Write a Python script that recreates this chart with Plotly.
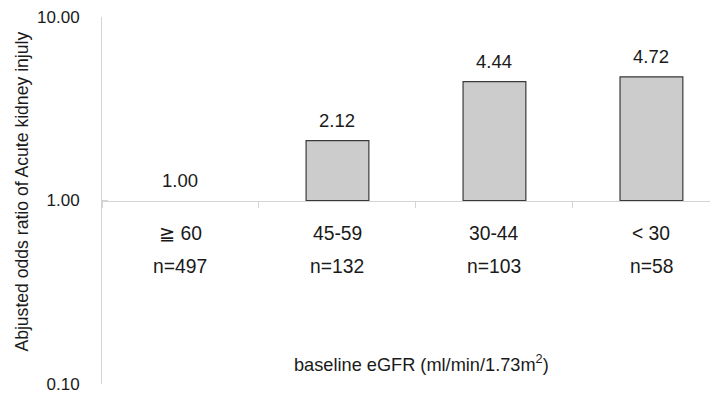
import math
import plotly.graph_objects as go

categories = ["≧ 60", "45-59", "30-44", "< 30"]
n_labels = ["n=497", "n=132", "n=103", "n=58"]
odds_ratios = [1.00, 2.12, 4.44, 4.72]
y_tick_vals = [0.1, 1, 10]
y_tick_text = ["0.10", "1.00", "10.00"]

FONT = "Liberation Sans, Arial, DejaVu Sans, sans-serif"
TXT = "#1a1a1a"
AXC = "#d4d4d4"

fig = go.Figure()
fig.add_trace(go.Bar(
    x=categories,
    y=[v - 1 for v in odds_ratios],
    base=[1] * len(odds_ratios),
    width=0.40,
    marker=dict(color="#cccccc",
                line=dict(color=["rgba(0,0,0,0)"] + ["#3a3a3a"] * 3, width=1.2)),
    hoverinfo="skip",
    showlegend=False,
))

annotations = []
for c, v in zip(categories, odds_ratios):
    annotations.append(dict(x=c, y=math.log10(v), xref="x", yref="y",
                            text=f"{v:.2f}", showarrow=False, yanchor="middle",
                            yshift=20, font=dict(size=18.5, color=TXT, family=FONT)))
for c, n in zip(categories, n_labels):
    annotations.append(dict(x=c, y=0.411, xref="x", yref="paper", text=c,
                            showarrow=False, yanchor="middle",
                            font=dict(size=19.3, color=TXT, family=FONT)))
    annotations.append(dict(x=c, y=0.3215, xref="x", yref="paper", text=n,
                            showarrow=False, yanchor="middle",
                            font=dict(size=19.3, color=TXT, family=FONT)))
annotations.append(dict(x=0.518, y=0.057, xref="paper", yref="paper",
                        text="baseline eGFR (ml/min/1.73m<sup>2</sup>)",
                        showarrow=False, xanchor="center", yanchor="middle",
                        font=dict(size=18.2, color=TXT, family=FONT)))
annotations.append(dict(x=-0.129, y=0.523, xref="paper", yref="paper",
                        text="Abjusted odds ratio of Acute kidney injuly",
                        textangle=-90, showarrow=False, xanchor="center", yanchor="middle",
                        font=dict(size=17.6, color=TXT, family=FONT)))

# page body has an 8px margin; size the figure so the plot area lands where the reference has it
fig.update_layout(
    width=710, height=385,
    margin=dict(l=94, r=0, t=9, b=9),
    paper_bgcolor="white", plot_bgcolor="white",
    annotations=annotations,
    xaxis=dict(
        type="category", range=[-0.5, 3.424],
        anchor="free", position=0.5,
        showline=True, linecolor=AXC, linewidth=1,
        ticks="outside", tickson="boundaries", ticklen=6, tickcolor=AXC,
        showticklabels=False, showgrid=False, zeroline=False,
    ),
    yaxis=dict(
        type="log", range=[-1, 1],
        tickvals=y_tick_vals, ticktext=y_tick_text,
        ticks="inside", ticklen=6, tickcolor=AXC,
        showline=True, linecolor=AXC, linewidth=1,
        ticklabelstandoff=18, ticklabeloverflow="allow",
        tickfont=dict(size=17, color=TXT, family=FONT),
        showgrid=False, zeroline=False,
    ),
)

fig.write_html("out.html")
